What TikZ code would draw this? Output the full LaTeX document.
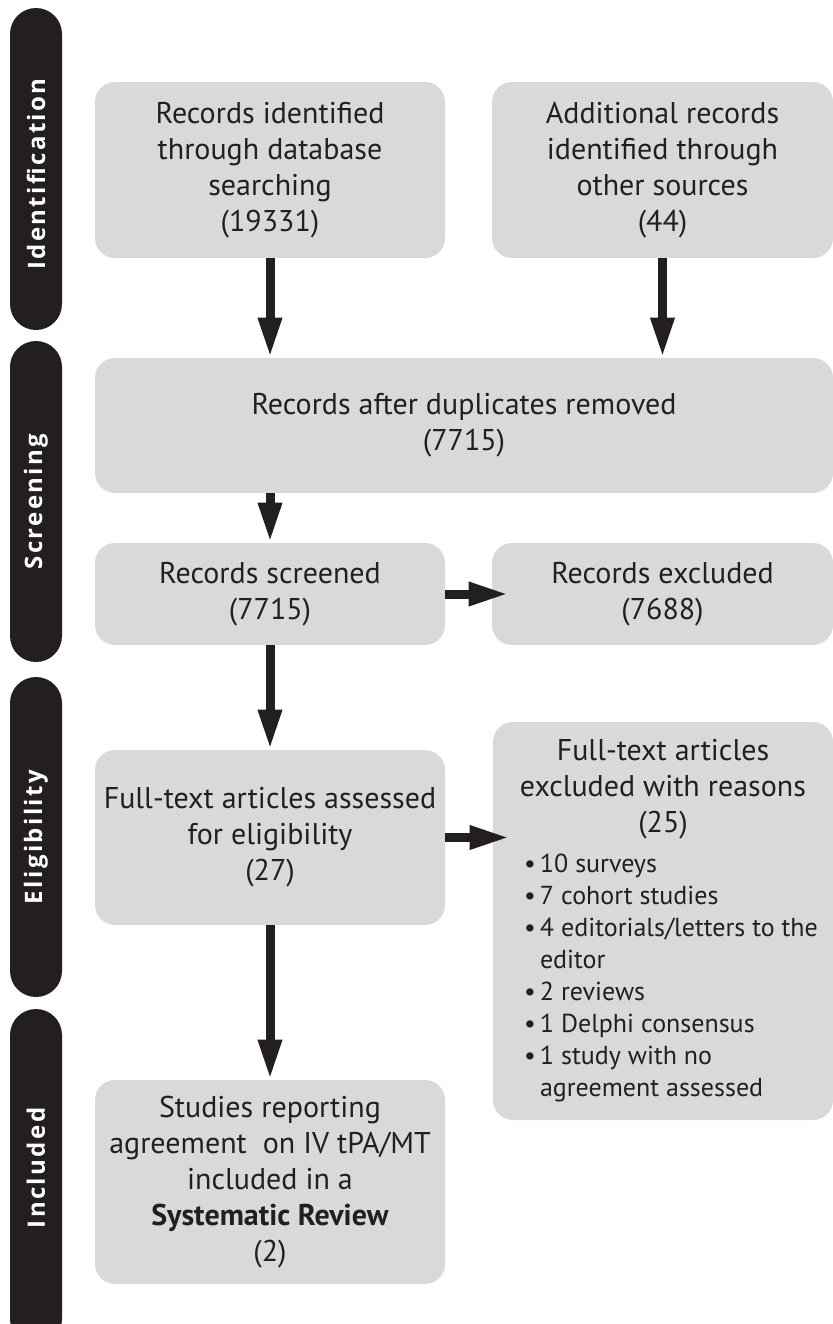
\documentclass[tikz,border=0pt]{standalone}
\usepackage{fontspec}
\setmainfont{PT Sans}
\newfontfamily\barfont{Open Sans}
\usetikzlibrary{arrows.meta}
\definecolor{boxgray}{RGB}{217,217,217}
\definecolor{inkgray}{RGB}{35,31,32}
\newcommand{\bitem}[1]{\hangindent=8pt\hangafter=1\noindent\makebox[8pt][l]{\textbullet}#1\par}

\begin{document}
\begin{tikzpicture}[x=0.5pt, y=-0.5pt,
  box/.style={rectangle, rounded corners=10pt, fill=boxgray, text=inkgray, align=center, inner sep=0pt, font=\fontsize{15}{18}\selectfont},
  bar/.style={rectangle, rounded corners=13pt, fill=inkgray, text=white, rotate=90, minimum height=26pt, inner sep=0pt, font=\barfont\bfseries\fontsize{12}{13}\selectfont\addfontfeatures{LetterSpace=10}},
  arr/.style={draw=inkgray, line width=4.5pt, -{Triangle[length=20pt, width=11pt]}}]
 \useasboundingbox (0,0) rectangle (833,1324);
 \clip (0,0) rectangle (833,1324);
 % phase bars on the left
  \node[bar, minimum width=161pt] (idbar) at (36,169) {Identification\hspace*{5pt}};
  \node[bar, minimum width=160.5pt] (scbar) at (36,501.5) {Screening};
  \node[bar, minimum width=160pt] (elbar) at (36,837) {Eligibility};
  \node[bar, minimum width=168pt] (inbar) at (36,1177) {\hspace*{9pt}Included};

 % flow boxes
  \node[box, minimum width=175pt, minimum height=88pt] (rec) at (270,170) {Records identified\\through database\\searching\\(19331)};
  \node[box, minimum width=170.5pt, minimum height=88pt] (add) at (662.5,170) {Additional records\\identified through\\other sources\\(44)};
  \node[box, minimum width=369pt, minimum height=67.5pt] (dup) at (464,425.5) {Records after duplicates removed\\(7715)};
  \node[box, minimum width=175pt, minimum height=51pt] (scr) at (270,594) {Records screened\\(7715)};
  \node[box, minimum width=170.5pt, minimum height=51pt] (excl) at (662.5,594) {Records excluded\\(7688)};
  \node[box, minimum width=175pt, minimum height=87.5pt] (full) at (270,837.5) {Full-text articles assessed\\for eligibility\\(27)};
  \node[box, minimum width=170pt, minimum height=199pt] (reas) at (663,921) {Full-text articles\\excluded with reasons\\(25)\\[2pt]
    \hspace*{9pt}\parbox[t]{148pt}{\fontsize{13}{16}\selectfont\raggedright
      \bitem{10 surveys}
      \bitem{7 cohort studies}
      \bitem{4 editorials/letters to the editor}
      \bitem{2 reviews}
      \bitem{1 Delphi consensus}
      \bitem{1 study with no agreement assessed}}};
  \node[box, minimum width=175pt, minimum height=102pt] (incl) at (270,1182) {Studies reporting\\agreement~ on IV tPA/MT\\included in a\\\textbf{Systematic Review}\\(2)};

  \foreach \from/\to in {rec/dup, add/dup, scr/full, full/incl}
   \draw[arr] (\from.south) -- (\from.south |- \to.north);
  \draw[arr] (scr.north |- dup.south) -- (scr.north);
  \foreach \from/\to in {scr/excl, full/reas}
   \draw[arr, shorten >=-8.5pt] (\from.east) -- (\from.east -| \to.west);
    \end{tikzpicture}
\end{document}
